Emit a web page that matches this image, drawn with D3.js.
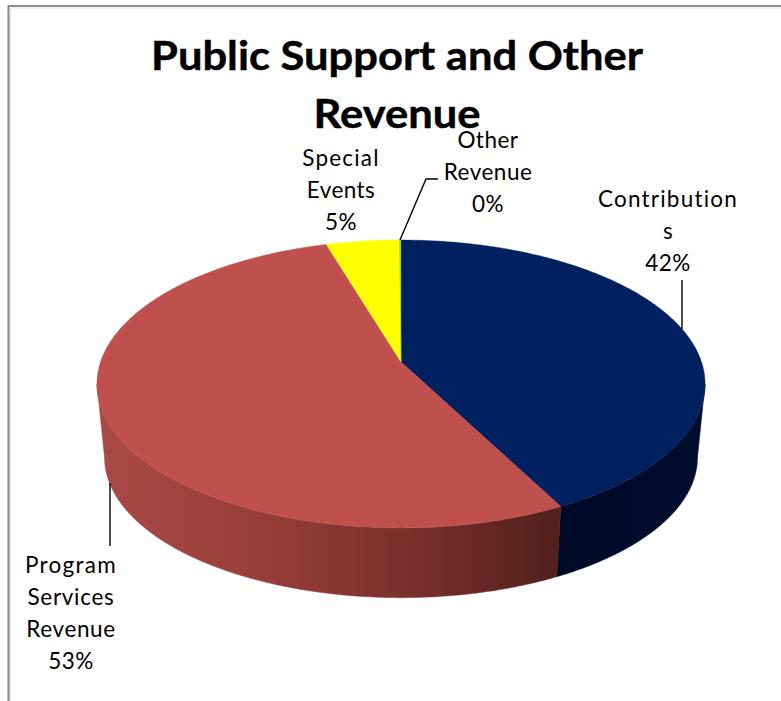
<!DOCTYPE html>
<html><head><meta charset="utf-8">
<script src="https://cdn.jsdelivr.net/npm/d3@7/dist/d3.min.js"></script>
<style>html,body{margin:0;padding:0;background:#fff}svg{display:block}text{font-family:Lato,"Open Sans",sans-serif;fill:#000}</style>
</head><body><svg id="c" width="781" height="701"></svg>
<script>
const categories = ["Contributions","Program Services Revenue","Special Events","Other Revenue"];
const values = [42.4, 53.0, 4.5, 0.1];
const topColors = ["#002060","#c0504d","#ffff00","#92d050"];
const titleLines = ["Public Support and Other","Revenue"];
const labelLines = [["Contribution","s","42%"],["Program","Services","Revenue","53%"],["Special","Events","5%"],["Other","Revenue","0%"]];
const labelSpacing = [[1.2,0.5,0.5],[1.3,0.7,0.6,0.5],[1.2,0.4,0.5],[0.5,0.5,0.5]];
const labelPos = [[668,207],[71,573],[341,166],[488,148]];
const leaders = [[[682,329],[682,280]],[[110,483],[110,546]],[[400,240],[426,179],[438,179]]];

const svg = d3.select("#c");
const defs = svg.append("defs");
function grad(id, stops){
  const g = defs.append("linearGradient").attr("id",id).attr("gradientUnits","userSpaceOnUse")
    .attr("x1",97).attr("x2",706).attr("y1",0).attr("y2",0);
  stops.forEach(s=>g.append("stop").attr("offset",s[0]).attr("stop-color",s[1]));
}
grad("sideRed",[[0,"#aa4a47"],[0.3,"#953c39"],[0.55,"#742d2a"],[0.76,"#52201b"],[1,"#52201b"]]);
grad("sideNavy",[[0,"#001034"],[0.75,"#000a28"],[1,"#000d2e"]]);
const sideFill = ["url(#sideNavy)","url(#sideRed)","#8a8a00","#506020"];

// perspective disc projection
const K=0.1525, CX=401;
const disc = (a,b,y0)=>t=>{const u=Math.sin(t),v=-Math.cos(t),w=1-K*v;return [CX+a*u/w,y0+b*v/w];};
const topP = disc(300.5,140.6,362), botP = disc(293,137,436);
const arcs = d3.pie().sort(null).value(d=>d)(values);
const line = d3.line();
const sample=(a,b)=>{const n=Math.max(2,Math.ceil((b-a)/0.01));return d3.range(n+1).map(i=>a+(b-a)*i/n);};

// side wall: visible part between the widest points of the disc
const fa=Math.PI/2+Math.asin(K), fb=3*Math.PI/2-Math.asin(K);
arcs.forEach((d,i)=>{
  const a=Math.max(d.startAngle,fa), b=Math.min(d.endAngle,fb);
  if(b<=a) return;
  const ts=sample(a,b);
  svg.append("path").attr("d",line(ts.map(topP).concat(ts.slice().reverse().map(botP)))+"Z")
    .attr("fill",sideFill[i]).attr("stroke",sideFill[i]).attr("stroke-width",0.5);
});
// top face
arcs.forEach((d,i)=>{
  const pts=[[CX,362]].concat(sample(d.startAngle,d.endAngle).map(topP));
  svg.append("path").attr("d",line(pts)+"Z").attr("fill",topColors[i]).attr("stroke",topColors[i]).attr("stroke-width",0.4);
});

// frame
svg.append("path").attr("d","M8.5,701V6H781").attr("fill","none").attr("stroke","#8c8c8c").attr("stroke-width",2);
svg.append("path").attr("d","M10.5,701V8H781").attr("fill","none").attr("stroke","#e2e2e2").attr("stroke-width",1);

// leaders
leaders.forEach(l=>svg.append("path").attr("d",line(l)).attr("fill","none").attr("stroke","#000").attr("stroke-width",1.4));

// title (slightly flattened to match the reference's lower cap height)
titleLines.forEach((t,i)=>svg.append("text").attr("transform",`translate(397,${70+58*i}) scale(1,0.9)`).attr("text-anchor","middle")
  .attr("font-size",43.5).attr("font-weight",700).attr("stroke","#000").attr("stroke-width",0.5).text(t));
// labels
labelLines.forEach((ls,i)=>ls.forEach((t,j)=>svg.append("text").attr("x",labelPos[i][0]).attr("y",labelPos[i][1]+32*j)
  .attr("text-anchor","middle").attr("font-size",22.5).attr("letter-spacing",labelSpacing[i][j]).text(t)));
</script></body></html>
